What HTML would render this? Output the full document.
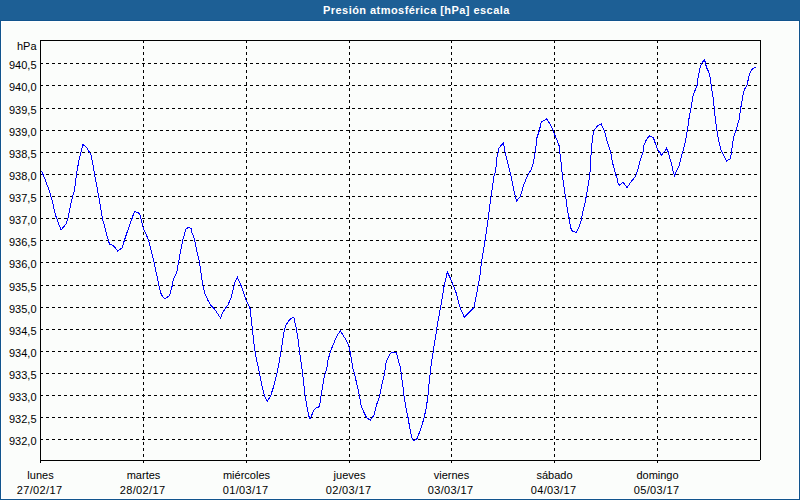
<!DOCTYPE html><html><head><meta charset="utf-8"><style>html,body{margin:0;padding:0;background:#fbfdfb;}svg{display:block;}text{font-family:"Liberation Sans",Arial,sans-serif;font-size:11px;fill:#000;}</style></head><body>
<svg width="800" height="500" viewBox="0 0 800 500">
<rect x="0" y="0" width="800" height="500" fill="#fbfdfb"/>
<g shape-rendering="crispEdges">
<rect x="0" y="0" width="800" height="20" fill="#1d5f95"/>
<rect x="0" y="20" width="800" height="1" fill="#11548d"/>
<rect x="0" y="20" width="1" height="480" fill="#11548d"/>
<rect x="799" y="20" width="1" height="480" fill="#11548d"/>
<rect x="0" y="499" width="800" height="1" fill="#11548d"/>
<rect x="1" y="21" width="798" height="1" fill="#fff"/>
<rect x="1" y="21" width="1" height="478" fill="#fff"/>
<rect x="798" y="21" width="1" height="478" fill="#fff"/>
<rect x="1" y="498" width="798" height="1" fill="#fff"/>
<g stroke="#000" stroke-width="1" stroke-dasharray="3 3" fill="none">
<line x1="40" y1="63.5" x2="760" y2="63.5"/>
<line x1="40" y1="85.5" x2="760" y2="85.5"/>
<line x1="40" y1="108.5" x2="760" y2="108.5"/>
<line x1="40" y1="130.5" x2="760" y2="130.5"/>
<line x1="40" y1="152.5" x2="760" y2="152.5"/>
<line x1="40" y1="174.5" x2="760" y2="174.5"/>
<line x1="40" y1="196.5" x2="760" y2="196.5"/>
<line x1="40" y1="218.5" x2="760" y2="218.5"/>
<line x1="40" y1="240.5" x2="760" y2="240.5"/>
<line x1="40" y1="262.5" x2="760" y2="262.5"/>
<line x1="40" y1="285.5" x2="760" y2="285.5"/>
<line x1="40" y1="307.5" x2="760" y2="307.5"/>
<line x1="40" y1="329.5" x2="760" y2="329.5"/>
<line x1="40" y1="351.5" x2="760" y2="351.5"/>
<line x1="40" y1="373.5" x2="760" y2="373.5"/>
<line x1="40" y1="395.5" x2="760" y2="395.5"/>
<line x1="40" y1="417.5" x2="760" y2="417.5"/>
<line x1="40" y1="439.5" x2="760" y2="439.5"/>
<line x1="143.5" y1="40" x2="143.5" y2="460"/>
<line x1="246.5" y1="40" x2="246.5" y2="460"/>
<line x1="349.5" y1="40" x2="349.5" y2="460"/>
<line x1="451.5" y1="40" x2="451.5" y2="460"/>
<line x1="554.5" y1="40" x2="554.5" y2="460"/>
<line x1="657.5" y1="40" x2="657.5" y2="460"/>
</g>
<g fill="#000">
<rect x="40" y="40" width="721" height="1"/>
<rect x="40" y="460" width="720" height="1"/>
<rect x="40" y="40" width="1" height="423"/>
<rect x="760" y="40" width="1" height="420"/>
<rect x="143" y="461" width="1" height="2"/>
<rect x="246" y="461" width="1" height="2"/>
<rect x="349" y="461" width="1" height="2"/>
<rect x="451" y="461" width="1" height="2"/>
<rect x="554" y="461" width="1" height="2"/>
<rect x="657" y="461" width="1" height="2"/>
</g>
</g>
<polyline points="41.5,171.0 45.0,179.0 49.5,191.5 52.0,200.0 55.5,215.0 56.5,218.0 61.0,230.0 66.0,224.0 68.0,218.0 71.6,200.0 74.5,190.0 76.5,174.0 79.0,160.0 81.0,152.0 83.0,144.5 87.0,148.0 91.0,155.0 93.0,165.0 94.5,174.0 97.5,190.0 98.7,196.0 102.3,218.0 108.2,240.0 109.5,244.0 113.7,246.0 117.7,251.0 121.9,248.0 124.5,240.0 127.4,231.4 131.9,218.8 133.7,213.4 134.9,211.3 136.4,212.2 139.4,213.4 140.3,215.5 140.9,218.2 142.7,226.0 144.2,230.2 148.5,240.0 154.0,262.0 158.8,285.0 160.8,293.0 162.7,297.0 164.6,298.6 169.6,295.8 172.4,285.0 173.2,279.6 176.8,272.4 178.6,262.0 181.6,245.4 182.8,240.0 185.0,232.0 186.0,229.0 188.5,227.3 191.0,228.5 192.0,233.0 193.5,236.0 194.5,240.0 196.0,247.0 197.5,254.0 199.5,262.0 202.8,285.0 204.6,293.0 208.2,301.0 211.4,306.0 214.6,309.2 217.8,314.0 220.6,318.0 222.6,312.4 226.2,307.2 228.2,304.4 231.0,298.0 233.5,288.0 235.0,282.0 237.5,277.5 241.0,285.5 242.5,289.0 246.0,300.0 249.4,307.0 250.6,310.0 251.2,320.0 252.4,329.4 253.6,340.4 255.0,351.4 256.8,360.8 258.4,368.0 259.6,373.4 261.8,384.8 264.2,395.0 267.2,401.4 270.8,395.4 273.8,386.0 277.0,373.0 278.6,365.6 281.0,351.4 283.0,338.0 284.5,329.5 286.0,325.0 288.5,321.0 290.5,319.0 293.0,317.5 294.0,318.0 296.5,329.5 298.0,339.0 299.5,351.5 302.6,373.5 305.1,395.5 306.8,406.0 309.3,417.9 310.3,418.6 313.8,410.2 315.9,408.0 319.4,406.7 321.1,395.5 324.5,375.0 326.5,370.0 328.0,360.0 330.5,351.5 333.0,345.0 336.0,338.0 338.0,334.0 340.5,331.0 343.0,335.0 346.0,340.0 348.5,345.0 350.0,351.5 351.5,360.0 353.2,370.0 354.4,373.4 357.0,384.8 359.4,395.6 361.2,405.8 363.6,411.8 366.6,417.6 370.2,420.2 373.8,415.4 376.2,405.8 379.8,395.6 381.6,385.4 383.0,380.0 384.5,373.5 385.5,367.0 386.0,363.0 387.0,360.0 388.0,358.0 390.0,354.0 391.5,352.5 396.0,352.0 397.0,355.0 398.5,361.0 400.0,366.0 401.2,373.5 402.0,380.0 403.5,390.0 404.0,395.6 406.4,410.2 408.0,417.4 410.0,429.4 412.4,439.4 413.6,440.8 416.0,439.6 417.2,438.4 421.4,427.0 424.2,417.4 426.2,407.8 427.4,400.0 428.0,395.2 428.4,390.0 430.2,373.2 431.8,360.0 433.2,351.6 435.0,340.2 436.6,330.0 437.2,325.0 440.6,307.3 444.2,285.4 447.3,272.0 451.0,279.6 455.9,292.2 460.1,307.6 464.3,317.4 474.0,307.5 478.2,285.4 480.3,273.0 481.4,262.7 485.0,240.6 488.2,218.5 491.1,196.0 494.3,174.0 495.5,171.8 497.0,157.5 498.9,148.4 500.9,145.8 503.5,142.6 505.1,152.3 510.6,174.4 513.2,187.4 516.5,201.0 520.4,196.5 523.6,184.8 528.2,174.4 531.0,170.0 533.4,162.8 535.2,152.3 537.0,137.6 539.4,130.4 541.2,122.0 544.2,120.6 546.6,119.0 549.6,123.2 552.6,129.2 554.4,134.0 557.4,141.2 559.2,146.0 559.8,152.3 561.0,161.6 562.2,174.4 565.4,196.5 566.4,200.0 566.8,205.6 568.0,212.8 569.2,218.4 570.4,227.2 572.0,230.8 576.4,232.8 579.2,226.4 580.8,222.4 581.6,218.4 583.2,210.4 584.4,205.6 585.6,200.0 586.2,196.5 589.9,174.4 590.4,163.0 591.2,152.5 592.4,139.0 593.6,131.8 595.2,128.8 597.6,125.8 599.4,124.6 601.2,124.0 603.0,128.2 604.2,130.4 606.0,136.6 607.8,143.8 610.8,152.5 612.6,163.0 614.0,168.0 615.6,174.4 617.2,178.4 618.0,183.2 619.2,185.2 623.2,182.4 627.2,187.6 630.0,183.2 634.8,177.2 636.4,174.4 638.4,167.2 640.4,160.0 643.0,152.2 643.5,146.0 644.5,144.0 646.5,139.5 648.0,137.5 649.5,136.0 651.5,136.5 653.5,138.0 655.5,144.0 657.0,148.0 659.0,151.5 660.0,152.5 661.5,155.5 663.5,152.5 665.5,150.5 666.5,148.5 668.5,152.5 669.5,157.0 671.5,164.0 673.0,171.0 674.5,176.0 677.0,170.0 679.5,165.0 680.5,160.0 682.5,152.5 684.6,145.0 687.4,130.4 689.0,118.6 691.0,108.4 693.2,95.2 697.0,85.5 698.5,75.0 700.0,68.0 701.5,63.5 704.5,59.5 706.5,67.5 708.5,71.5 710.0,77.0 711.2,85.6 712.5,94.0 713.5,100.0 714.2,108.4 715.5,120.0 717.0,130.5 718.5,140.0 721.0,150.0 723.5,155.0 726.5,161.0 730.0,159.0 731.5,152.5 732.5,144.0 733.5,137.5 736.0,130.5 737.0,127.0 739.0,120.0 740.7,108.2 742.6,98.0 743.4,92.4 745.0,88.4 747.0,85.4 748.2,79.6 749.4,74.0 750.2,72.4 751.0,70.8 752.2,69.2 753.8,68.4 755.4,67.2" fill="none" stroke="#0000ff" stroke-width="1" shape-rendering="crispEdges"/>
<text x="36.5" y="50" text-anchor="end">hPa</text>
<text x="36.5" y="69" text-anchor="end">940,5</text>
<text x="36.5" y="91" text-anchor="end">940,0</text>
<text x="36.5" y="114" text-anchor="end">939,5</text>
<text x="36.5" y="136" text-anchor="end">939,0</text>
<text x="36.5" y="158" text-anchor="end">938,5</text>
<text x="36.5" y="180" text-anchor="end">938,0</text>
<text x="36.5" y="202" text-anchor="end">937,5</text>
<text x="36.5" y="224" text-anchor="end">937,0</text>
<text x="36.5" y="246" text-anchor="end">936,5</text>
<text x="36.5" y="268" text-anchor="end">936,0</text>
<text x="36.5" y="291" text-anchor="end">935,5</text>
<text x="36.5" y="313" text-anchor="end">935,0</text>
<text x="36.5" y="335" text-anchor="end">934,5</text>
<text x="36.5" y="357" text-anchor="end">934,0</text>
<text x="36.5" y="379" text-anchor="end">933,5</text>
<text x="36.5" y="401" text-anchor="end">933,0</text>
<text x="36.5" y="423" text-anchor="end">932,5</text>
<text x="36.5" y="445" text-anchor="end">932,0</text>
<text x="40.5" y="479" text-anchor="middle">lunes</text>
<text x="39.6" y="494" text-anchor="middle" letter-spacing="0.35">27/02/17</text>
<text x="143.5" y="479" text-anchor="middle">martes</text>
<text x="142.6" y="494" text-anchor="middle" letter-spacing="0.35">28/02/17</text>
<text x="246.5" y="479" text-anchor="middle">miércoles</text>
<text x="245.6" y="494" text-anchor="middle" letter-spacing="0.35">01/03/17</text>
<text x="349.5" y="479" text-anchor="middle">jueves</text>
<text x="348.6" y="494" text-anchor="middle" letter-spacing="0.35">02/03/17</text>
<text x="451.5" y="479" text-anchor="middle">viernes</text>
<text x="450.6" y="494" text-anchor="middle" letter-spacing="0.35">03/03/17</text>
<text x="554.5" y="479" text-anchor="middle">sábado</text>
<text x="553.6" y="494" text-anchor="middle" letter-spacing="0.35">04/03/17</text>
<text x="657.5" y="479" text-anchor="middle">domingo</text>
<text x="656.6" y="494" text-anchor="middle" letter-spacing="0.35">05/03/17</text>
<text x="323" y="14" style="font-weight:bold;font-size:11px;fill:#fff;letter-spacing:0.45px">Presión atmosférica [hPa] escala</text>
</svg></body></html>
